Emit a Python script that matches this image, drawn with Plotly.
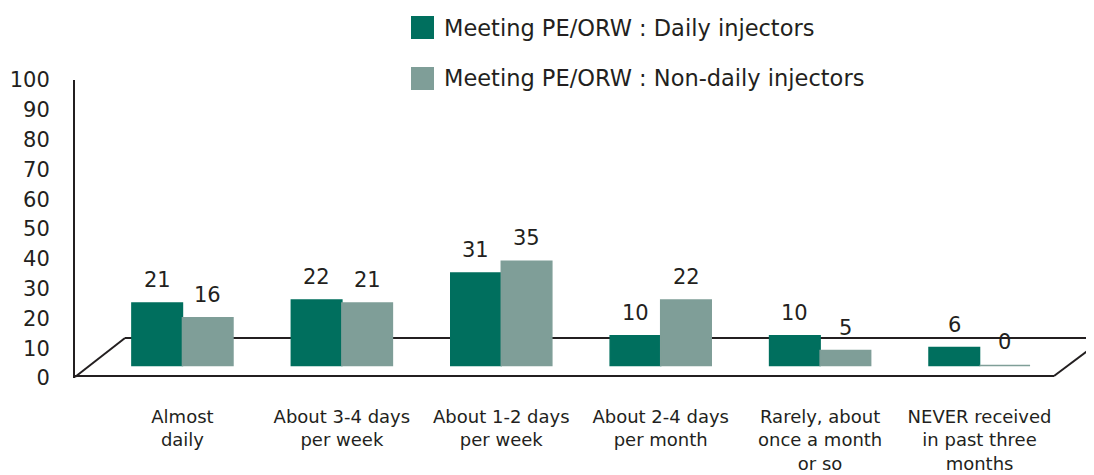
import plotly.graph_objects as go

categories = ["Almost<br>daily", "About 3-4 days<br>per week", "About 1-2 days<br>per week",
              "About 2-4 days<br>per month", "Rarely, about<br>once a month<br>or so",
              "NEVER received<br>in past three<br>months"]
daily = [21, 22, 31, 10, 10, 6]
non_daily = [16, 21, 35, 22, 5, 0]
series_names = ["Meeting PE/ORW : Daily injectors", "Meeting PE/ORW : Non-daily injectors"]
y_ticks = list(range(0, 101, 10))

C_DAILY = "#006f5e"
C_NON = "#7f9e98"
INK = "#231f20"
FONT = "DejaVu Sans"

OFF = 8  # page body margin in the browser
W, H = 1094 - OFF, 475 - OFF
ML, MR, MT, MB = 75 - OFF, 0, 80 - OFF, 97
PW, PH = W - ML - MR, H - MT - MB
FLOOR_OFFSET = 4.2  # bars stand on the pseudo-3D floor

def px(x):
    return (x - OFF - ML) / PW

def py(y):
    return (H - MB - (y - OFF)) / PH

fig = go.Figure()
for name, vals, col in [(series_names[0], daily, C_DAILY), (series_names[1], non_daily, C_NON)]:
    fig.add_trace(go.Bar(
        x=categories, y=vals, base=[FLOOR_OFFSET] * len(vals), name=name,
        marker=dict(color=col, line=dict(color=col, width=1.5)),
        showlegend=False, hoverinfo="x+y"))

# value labels
annots = []
for vals, shift in [(daily, -25.3), (non_daily, 25.3)]:
    for c, v in zip(categories, vals):
        annots.append(dict(x=c, y=v + FLOOR_OFFSET, text=str(v), xref="x", yref="y",
                           xshift=shift, yshift=9, yanchor="bottom", showarrow=False,
                           font=dict(family=FONT, size=21, color=INK)))

# legend (manual, larger swatches)
for i, (name, col) in enumerate(zip(series_names, [C_DAILY, C_NON])):
    cy = 27.5 + i * 51
    fig.add_shape(type="rect", xref="paper", yref="paper",
                  x0=px(411), x1=px(434), y0=py(cy + 11.5), y1=py(cy - 11.5),
                  fillcolor=col, line=dict(width=0))
    annots.append(dict(x=px(442), y=py(cy), xref="paper", yref="paper", text=name,
                       xanchor="left", yanchor="middle", showarrow=False,
                       font=dict(family=FONT, size=22.5, color=INK)))

# pseudo-3D floor
floor_lines = [((75, 376), (1054, 376)), ((125, 338), (1100, 338)),
               ((75, 377), (125, 338)), ((1054, 376), (1094, 346))]
for (x0, y0), (x1, y1) in floor_lines:
    fig.add_shape(type="line", xref="paper", yref="paper", layer="below",
                  x0=px(x0), y0=py(y0), x1=px(x1), y1=py(y1),
                  line=dict(color=INK, width=2))

fig.update_layout(
    width=W, height=H, margin=dict(l=ML, r=MR, t=MT, b=MB, autoexpand=False),
    paper_bgcolor="white", plot_bgcolor="white",
    barmode="group", bargap=0.366, bargroupgap=0,
    annotations=annots,
    font=dict(family=FONT, color=INK),
    xaxis=dict(range=[-0.674, 5.718], showgrid=False, zeroline=False, automargin=False,
               showline=False, ticks="", tickfont=dict(family=FONT, size=18, color=INK),
               ticklabelstandoff=26, tickangle=0),
    yaxis=dict(range=[0, 100], tickvals=y_ticks, showgrid=False, zeroline=False,
               automargin=False,
               showline=True, linecolor=INK, linewidth=2, ticks="",
               tickfont=dict(family=FONT, size=21, color=INK), ticklabelstandoff=19),
)
fig.write_html("out.html")
